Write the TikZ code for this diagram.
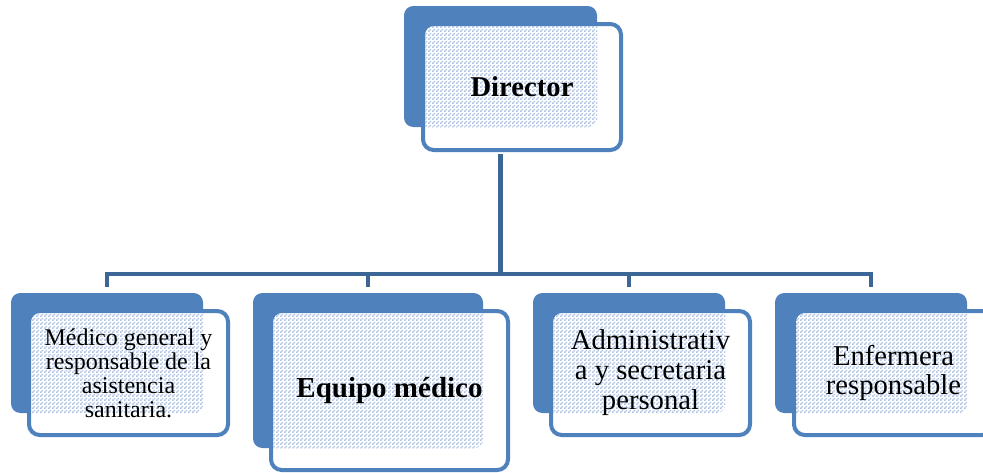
\documentclass[tikz,border=0pt]{standalone}
\usepackage{fontspec}
\setmainfont{Liberation Serif}
\usetikzlibrary{patterns}

\definecolor{boxblue}{HTML}{4F81BD}
\definecolor{linkblue}{HTML}{3C6696}
\definecolor{patblue}{HTML}{AFC2E0}

\pgfdeclarepatternformonly{smalldots}{\pgfpointorigin}{\pgfpoint{3pt}{3pt}}{\pgfpoint{3pt}{3pt}}{%
  \pgfpathrectangle{\pgfpointorigin}{\pgfpoint{1.5pt}{1.5pt}}%
  \pgfpathrectangle{\pgfpoint{1.5pt}{1.5pt}}{\pgfpoint{1.5pt}{1.5pt}}%
  \pgfusepath{fill}}

\begin{document}
\begin{tikzpicture}[x=0.75pt,y=-0.75pt,
    back box/.style={fill=boxblue,rounded corners=7pt,inner sep=0pt},
    front box/.style={draw=boxblue,line width=3pt,fill=white,rounded corners=8pt,inner sep=0pt,align=center,font=\fontsize{18}{18}\selectfont},
    see back/.style={path picture={\fill[pattern=smalldots,pattern color=patblue,rounded corners=7pt] (#1.south west) rectangle (#1.north east);}},
    link/.style={draw=linkblue,line width=3.5pt}]
    \clip (0,0) rectangle (983,472);

    % director
    \node[back box, minimum width=144.75pt, minimum height=90.75pt] (dirb) at (500.5,66.5) {};
    \node[front box, see back=dirb, minimum width=148.5pt, minimum height=94.5pt, font=\fontsize{21.5}{24}\selectfont\bfseries] (dirf) at (522,87) {Director};

    % second row
    \node[back box, minimum width=144pt, minimum height=90pt] (medb) at (107,353) {};
    \node[front box, see back=medb, minimum width=149.25pt, minimum height=93pt] (medf) at (128.5,373) {Médico general y\\responsable de la\\asistencia\\sanitaria.};

    \node[back box, minimum width=172.5pt, minimum height=116.25pt] (equb) at (368,370.5) {};
    \node[front box, see back=equb, minimum width=177.75pt, minimum height=119.25pt, font=\fontsize{21.75}{24}\selectfont\bfseries] (equf) at (389.5,390.5) {Equipo médico};

    \node[back box, minimum width=144pt, minimum height=90pt] (admb) at (629,353) {};
    \node[front box, see back=admb, minimum width=149.25pt, minimum height=93pt, font=\fontsize{21.5}{22.5}\selectfont] (admf) at (650.5,373) {Administrativ\\a y secretaria\\personal};

    \node[back box, minimum width=144pt, minimum height=90pt] (enfb) at (871,353) {};
    \node[front box, see back=enfb, minimum width=149.25pt, minimum height=93pt, font=\fontsize{21.5}{21.75}\selectfont] (enff) at (893.5,373) {Enfermera\\responsable};

    \coordinate (bus) at (500.5,274);
    \draw[link, shorten <=1.5pt] (dirb.south |- dirf.south) -- (bus);
    \draw[link, shorten <=4pt, shorten >=4pt] (medb.north) |- (bus) -| (enfb.north);
    \draw[link, shorten <=4pt] (equb.north) -- (equb.north |- bus);
    \draw[link, shorten <=4pt] (admb.north) -- (admb.north |- bus);
\end{tikzpicture}
\end{document}
